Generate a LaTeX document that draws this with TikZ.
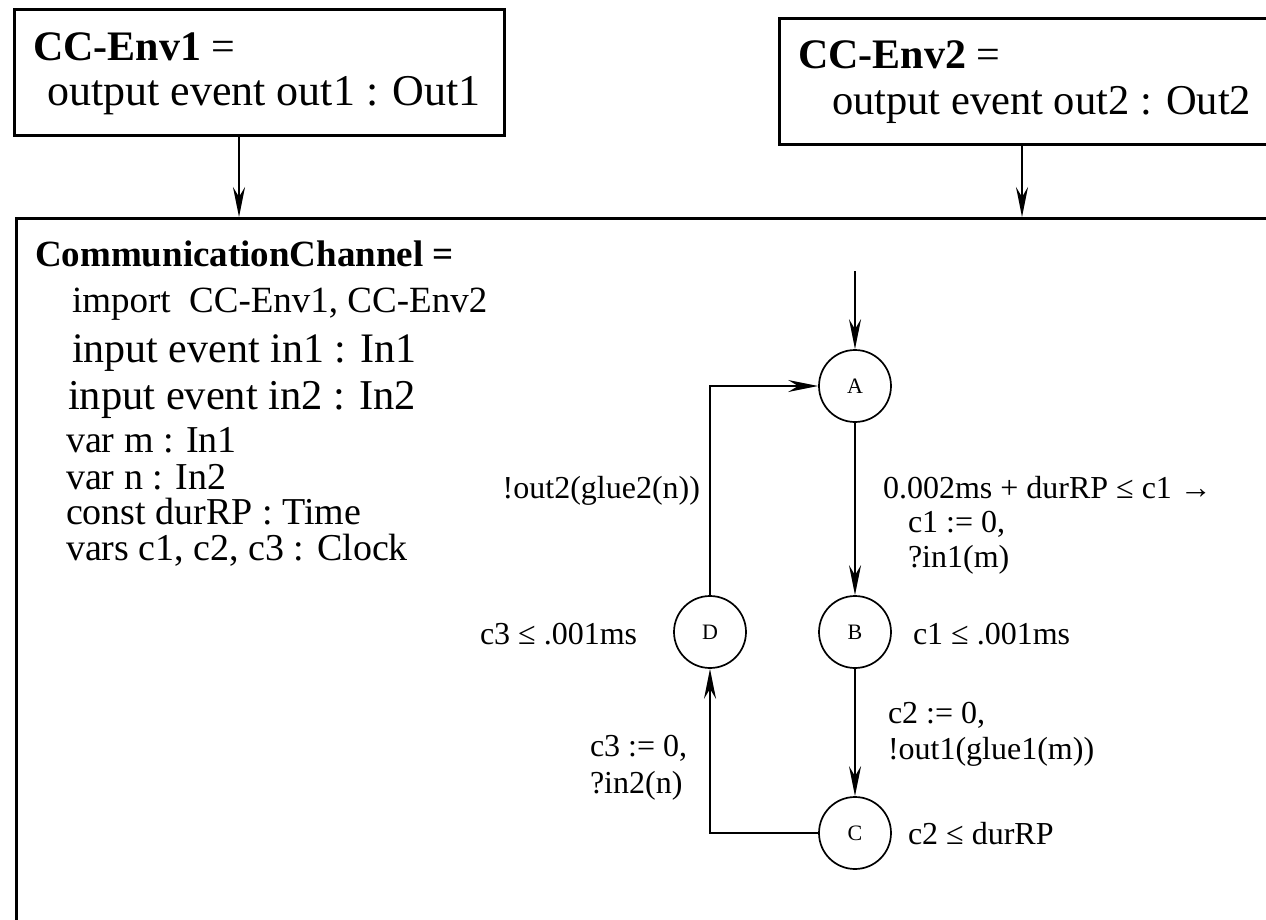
\documentclass[tikz,border=0pt]{standalone}
\usepackage{fontspec}
\setmainfont{Liberation Serif}
\usetikzlibrary{arrows.meta}
\newcommand\fz[1]{\fontsize{#1}{#1}\selectfont}
\tikzset{
  txt/.style={anchor=base west, inner sep=0pt, outer sep=0pt},
  txtr/.style={anchor=base east, inner sep=0pt, outer sep=0pt},
  box/.style={draw, line width=2.8pt, inner sep=0pt},
  state/.style={circle, draw, line width=1.7pt, minimum size=72pt, inner sep=0pt},
  arr/.style={line width=1.9pt, -{Stealth[length=30pt,width=12pt,inset=10pt]}},
  lbl/.style={font=\fz{32}},
}
\begin{document}
\begin{tikzpicture}[x=1pt,y=-1pt]
\useasboundingbox (0,0) rectangle (1266,920);
\clip (0,0) rectangle (1266,920);
% boxes
\node[box, anchor=north west, minimum width=490pt, minimum height=126pt] (env1) at (13,8) {};
\node[box, anchor=north west, minimum width=520pt, minimum height=126pt] (env2) at (778,17) {};
\node[box, anchor=north west, minimum width=1300pt, minimum height=740pt] (main) at (15,217) {};
\coordinate (a1x) at (239,0);
\coordinate (a2x) at (1022,0);
\draw[arr] (env1.south -| a1x) -- (main.north -| a1x);
\draw[arr] (env2.south -| a2x) -- (main.north -| a2x);
% box texts
\node[txt] (t1a) at (33,61) {\fz{42}\textbf{CC-Env1} =};
\node[txt] (t1b) at (47,106) {\fz{44}output event out1 : Out1};
\node[txt] (t2a) at (798,69) {\fz{42}\textbf{CC-Env2} =};
\node[txt] (t2b) at (832,115) {\fz{42.5}output event out2 : Out2};
% declarations
\node[txt] (d0) at (35,266) {\fz{37}\textbf{CommunicationChannel =}};
\node[txt] (d1) at (72,312) {\fz{37}import\ \ CC-Env1, CC-Env2};
\node[txt] (d2) at (72,362) {\fz{42}input event in1 : In1};
\node[txt] (d3) at (68,409) {\fz{42.5}input event in2 : In2};
\node[txt] (d4) at (66,452) {\fz{38}var m : In1};
\node[txt] (d5) at (66,489) {\fz{38}var n : In2};
\node[txt] (d6) at (66,524) {\fz{38}const durRP : Time};
\node[txt] (d7) at (66,560) {\fz{38}vars c1, c2, c3 : Clock};
% automaton
\node[state, font=\fz{22}] (A) at (855,386) {A};
\node[state, font=\fz{22}] (B) at (855,632) {B};
\node[state, font=\fz{22}] (C) at (855,833) {C};
\node[state, font=\fz{22}] (D) at (710,632) {D};
\coordinate (init) at (855,271);
\draw[arr] (init) -- (A);
\draw[arr] (A) -- (B);
\draw[arr] (B) -- (C);
\draw[arr] (C.west) -| (D.south);
\draw[arr] (D.north) |- (A.west);
% labels
\node[txtr, lbl] (l1) at (700,498) {!out2(glue2(n))};
\node[txt, lbl] (l2) at (883,498) {0.002ms + durRP ≤ c1 →};
\node[txt, lbl] (l3) at (908,532) {c1 := 0,};
\node[txt, lbl] (l4) at (908,567) {?in1(m)};
\node[txt, lbl] (l5) at (480,644) {c3 ≤ .001ms};
\node[txt, lbl] (l6) at (913,644) {c1 ≤ .001ms};
\node[txt, lbl] (l7) at (888,723) {c2 := 0,};
\node[txt, lbl] (l8) at (888,759) {!out1(glue1(m))};
\node[txt, lbl] (l9) at (590,756) {c3 := 0,};
\node[txt, lbl] (l10) at (590,793) {?in2(n)};
\node[txt, lbl] (l11) at (908,844) {c2 ≤ durRP};
\end{tikzpicture}
\end{document}
